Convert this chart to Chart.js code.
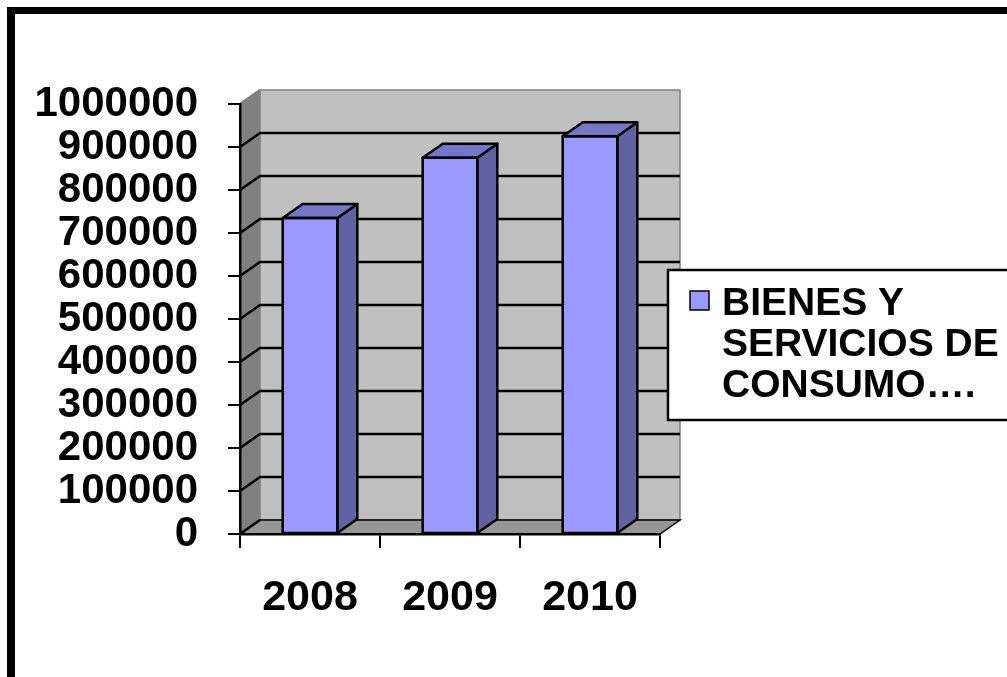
<!DOCTYPE html>
<html>
<head>
<meta charset="utf-8">
<title>Bienes y servicios de consumo</title>
<script src="https://cdn.jsdelivr.net/npm/chart.js@4.4.1/dist/chart.umd.min.js"></script>
<style>
  html, body { margin: 0; padding: 0; background: #fff; overflow: hidden; }
  canvas { display: block; }
</style>
</head>
<body>
<canvas id="grafico" width="1007" height="677"></canvas>
<script>
const anios = ['2008', '2009', '2010'];
const consumo = [735000, 875000, 925000];
const serie = 'BIENES Y SERVICIOS DE CONSUMO….';
const ejeMax = 1000000;
const ejePaso = 100000;

// profundidad del efecto 3D
const dx = 20, dy = -14;
const fuente = '"Liberation Sans", Arial, sans-serif';

const paredes = {
  id: 'paredes',
  beforeDraw(chart) {
    const { ctx, chartArea: a, scales: { y } } = chart;
    ctx.save();
    // pared izquierda
    ctx.fillStyle = '#808080';
    ctx.beginPath();
    ctx.moveTo(a.left, a.bottom);
    ctx.lineTo(a.left + dx, a.bottom + dy);
    ctx.lineTo(a.left + dx, a.top + dy);
    ctx.lineTo(a.left, a.top);
    ctx.closePath();
    ctx.fill();
    // pared del fondo
    ctx.fillStyle = '#c0c0c0';
    ctx.fillRect(a.left + dx, a.top + dy, a.right - a.left, a.bottom - a.top);
    ctx.strokeStyle = '#808080';
    ctx.lineWidth = 1.5;
    ctx.strokeRect(a.left + dx, a.top + dy, a.right - a.left, a.bottom - a.top);
    // piso
    ctx.fillStyle = '#969696';
    ctx.beginPath();
    ctx.moveTo(a.left, a.bottom);
    ctx.lineTo(a.right, a.bottom);
    ctx.lineTo(a.right + dx, a.bottom + dy);
    ctx.lineTo(a.left + dx, a.bottom + dy);
    ctx.closePath();
    ctx.fill();
    ctx.strokeStyle = '#000';
    ctx.lineWidth = 1.5;
    ctx.stroke();
    // lineas de division
    y.ticks.forEach(t => {
      const py = y.getPixelForValue(t.value);
      ctx.strokeStyle = t.value === ejeMax ? '#808080' : '#000';
      ctx.lineWidth = 2.5;
      ctx.beginPath();
      ctx.moveTo(a.left, py);
      ctx.lineTo(a.left + dx, py + dy);
      if (t.value > 0 && t.value < ejeMax) ctx.lineTo(a.right + dx, py + dy);
      ctx.stroke();
    });
    ctx.restore();
  },
  afterDatasetsDraw(chart) {
    const { ctx } = chart;
    const meta = chart.getDatasetMeta(0);
    ctx.save();
    ctx.strokeStyle = '#000';
    ctx.lineWidth = 2.5;
    ctx.lineJoin = 'round';
    meta.data.forEach(bar => {
      const { x, y, base, width } = bar.getProps(['x', 'y', 'base', 'width'], true);
      const x1 = x - width / 2, x2 = x + width / 2;
      // lado
      ctx.fillStyle = '#6262a3';
      ctx.beginPath();
      ctx.moveTo(x2, y);
      ctx.lineTo(x2 + dx, y + dy);
      ctx.lineTo(x2 + dx, base + dy);
      ctx.lineTo(x2, base);
      ctx.closePath();
      ctx.fill();
      ctx.stroke();
      // tapa
      ctx.fillStyle = '#7676c8';
      ctx.beginPath();
      ctx.moveTo(x1, y);
      ctx.lineTo(x1 + dx, y + dy);
      ctx.lineTo(x2 + dx, y + dy);
      ctx.lineTo(x2, y);
      ctx.closePath();
      ctx.fill();
      ctx.stroke();
      ctx.strokeRect(x1, y, width, base - y);
    });
    ctx.restore();
  },
  afterDraw(chart) {
    const { ctx, width } = chart;
    ctx.save();
    // leyenda
    const lx = 668, ly = 270, lh = 150;
    ctx.fillStyle = '#fff';
    ctx.fillRect(lx, ly, width - lx + 10, lh);
    ctx.strokeStyle = '#000';
    ctx.lineWidth = 2.5;
    ctx.strokeRect(lx, ly, width - lx + 10, lh);
    const ds = chart.data.datasets[0];
    ctx.fillStyle = ds.backgroundColor;
    ctx.fillRect(690, 291, 19, 19);
    ctx.lineWidth = 1.5;
    ctx.strokeRect(690, 291, 19, 19);
    ctx.font = 'bold 39px ' + fuente;
    ctx.fillStyle = '#000';
    ctx.textBaseline = 'alphabetic';
    const tx = 722, maxW = width - tx - 2;
    const lineas = [];
    let actual = '';
    ds.label.split(' ').forEach(p => {
      const prueba = actual ? actual + ' ' + p : p;
      if (ctx.measureText(prueba).width > maxW && actual) {
        lineas.push(actual);
        actual = p;
      } else {
        actual = prueba;
      }
    });
    lineas.push(actual);
    lineas.forEach((l, i) => ctx.fillText(l, tx, 315 + i * 41));
    // marco exterior
    ctx.fillStyle = '#000';
    ctx.fillRect(7, 7, 8, chart.height);
    ctx.fillRect(7, 7, width, 7);
    ctx.restore();
  }
};

new Chart(document.getElementById('grafico'), {
  type: 'bar',
  data: {
    labels: anios,
    datasets: [{
      label: serie,
      data: consumo,
      backgroundColor: '#9999ff',
      borderColor: '#000',
      borderWidth: 0,
      categoryPercentage: 1,
      barPercentage: 0.39,
    }],
  },
  options: {
    responsive: false,
    animation: false,
    devicePixelRatio: 1,
    layout: { padding: { top: 104, right: 347, left: 0, bottom: 0 } },
    plugins: {
      legend: { display: false },
      tooltip: { enabled: false },
    },
    scales: {
      x: {
        grid: {
          drawOnChartArea: false,
          color: '#000',
          tickLength: 14,
          lineWidth: 2,
        },
        border: { color: '#000', width: 2.5 },
        ticks: {
          color: '#000',
          padding: 24,
          font: { family: fuente, size: 43, weight: 'bold' },
        },
        afterFit(s) { s.height = 143; },
      },
      y: {
        min: 0,
        max: ejeMax,
        grid: {
          drawOnChartArea: false,
          color: '#000',
          tickLength: 12,
          lineWidth: 2,
        },
        border: { color: '#000', width: 2.5 },
        ticks: {
          stepSize: ejePaso,
          autoSkip: false,
          color: '#000',
          padding: 30,
          font: { family: fuente, size: 42, weight: 'bold', lineHeight: 1 },
          callback: v => String(v),
        },
        afterFit(s) { s.width = 240; },
      },
    },
  },
  plugins: [paredes],
});
</script>
</body>
</html>
